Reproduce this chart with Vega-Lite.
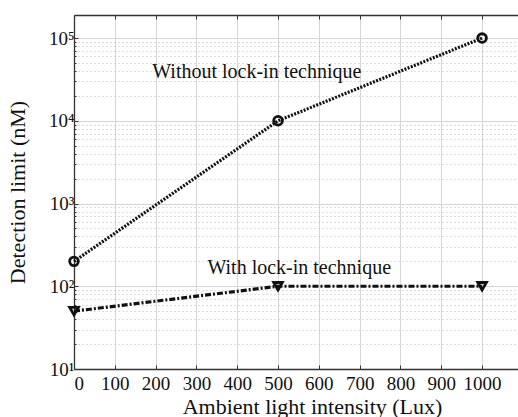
{
  "$schema": "https://vega.github.io/schema/vega-lite/v6.json",
  "width": 444,
  "height": 354,
  "autosize": {"type": "none"},
  "padding": {"left": 74, "top": 15, "right": 0, "bottom": 48},
  "background": "white",
  "view": {"stroke": null},
  "config": {
    "font": "Liberation Serif",
    "text": {"font": "Liberation Serif"},
    "axis": {"labelFont": "Liberation Serif", "titleFont": "Liberation Serif", "titleFontWeight": "normal", "labelColor": "#111", "titleColor": "#111"}
  },
  "datasets": {
    "limits": [
      {"series": "Without lock-in technique", "lux": 0, "nm": 200},
      {"series": "Without lock-in technique", "lux": 500, "nm": 10000},
      {"series": "Without lock-in technique", "lux": 1000, "nm": 100000},
      {"series": "With lock-in technique", "lux": 0, "nm": 50},
      {"series": "With lock-in technique", "lux": 500, "nm": 100},
      {"series": "With lock-in technique", "lux": 1000, "nm": 100}
    ],
    "notes": [
      {"label": "Without lock-in technique", "lux": 448, "nm": 39000},
      {"label": "With lock-in technique", "lux": 552, "nm": 165}
    ]
  },
  "layer": [
    {
      "encoding": {
        "x": {
          "field": "lux", "type": "quantitative",
          "scale": {"domain": [0, 1088], "nice": false, "zero": false},
          "axis": {
            "title": "Ambient light intensity (Lux)",
            "values": [0, 100, 200, 300, 400, 500, 600, 700, 800, 900, 1000],
            "format": "d",
            "labelFont": "Liberation Serif", "titleFont": "Liberation Serif",
            "labelFontSize": 19, "titleFontSize": 22,
            "labelPadding": 9,
            "titleBaseline": "alphabetic", "titleX": 238, "titleY": 44,
            "tickSize": -4, "tickColor": "#333", "domainColor": "#333", "domainWidth": 1.3,
            "gridColor": "#d6d6d6", "gridWidth": 1
          }
        },
        "y": {
          "field": "nm", "type": "quantitative",
          "scale": {"type": "log", "domain": [10, 190000], "nice": false},
          "axis": {
            "title": "Detection limit (nM)",
            "values": [10, 20, 30, 40, 50, 60, 70, 80, 90, 100, 200, 300, 400, 500, 600, 700, 800, 900, 1000, 2000, 3000, 4000, 5000, 6000, 7000, 8000, 9000, 10000, 20000, 30000, 40000, 50000, 60000, 70000, 80000, 90000, 100000],
            "labelExpr": "abs(log(datum.value)/LN10 - round(log(datum.value)/LN10)) < 0.000001 ? '10' + ['⁰','¹','²','³','⁴','⁵'][round(log(datum.value)/LN10)] : ''",
            "labelFont": "Liberation Serif", "titleFont": "Liberation Serif",
            "labelFontSize": 19, "titleFontSize": 22,
            "labelPadding": 4, "titlePadding": 19,
            "tickColor": "#333", "domainColor": "#333", "domainWidth": 1.3,
            "tickSize": {"condition": {"test": "abs(log(datum.value)/LN10 - round(log(datum.value)/LN10)) < 0.000001", "value": -4}, "value": -2},
            "gridColor": {"condition": {"test": "abs(log(datum.value)/LN10 - round(log(datum.value)/LN10)) < 0.000001", "value": "#d6d6d6"}, "value": "#bdbdbd"},
            "gridDash": {"condition": {"test": "abs(log(datum.value)/LN10 - round(log(datum.value)/LN10)) < 0.000001", "value": []}, "value": [1, 3]},
            "labelOverlap": false
          }
        }
      },
      "layer": [
        {
          "data": {"name": "limits"},
          "transform": [{"filter": "datum.series === 'Without lock-in technique'"}],
          "mark": {"type": "line", "color": "#111", "strokeWidth": 3.2, "strokeDash": [2, 1.4]}
        },
        {
          "data": {"name": "limits"},
          "transform": [{"filter": "datum.series === 'With lock-in technique'"}],
          "mark": {"type": "line", "color": "#111", "strokeWidth": 3.2, "strokeDash": [6, 2, 2, 2]}
        },
        {
          "data": {"name": "limits"},
          "transform": [{"filter": "datum.series === 'Without lock-in technique'"}],
          "mark": {"type": "point", "shape": "circle", "filled": false, "color": "#111", "size": 75, "strokeWidth": 2.8, "opacity": 1}
        },
        {
          "data": {"name": "limits"},
          "transform": [{"filter": "datum.series === 'With lock-in technique'"}],
          "mark": {"type": "point", "shape": "triangle-down", "filled": false, "color": "#111", "size": 75, "strokeWidth": 2.8, "opacity": 1}
        },
        {
          "data": {"name": "notes"},
          "mark": {"type": "text", "font": "Liberation Serif", "fontSize": 20, "color": "#111", "align": "center", "baseline": "middle"},
          "encoding": {"text": {"field": "label"}}
        }
      ]
    },
    {
      "data": {"name": "limits"},
      "mark": {"type": "rule", "opacity": 0},
      "encoding": {
        "x": {
          "field": "lux", "type": "quantitative",
          "axis": {
            "orient": "top", "title": null, "labels": false, "grid": false,
            "values": [0, 100, 200, 300, 400, 500, 600, 700, 800, 900, 1000],
            "tickSize": -4, "tickColor": "#333", "domainColor": "#333", "domainWidth": 1.3
          }
        }
      }
    }
  ],
  "resolve": {"axis": {"x": "independent"}}
}
